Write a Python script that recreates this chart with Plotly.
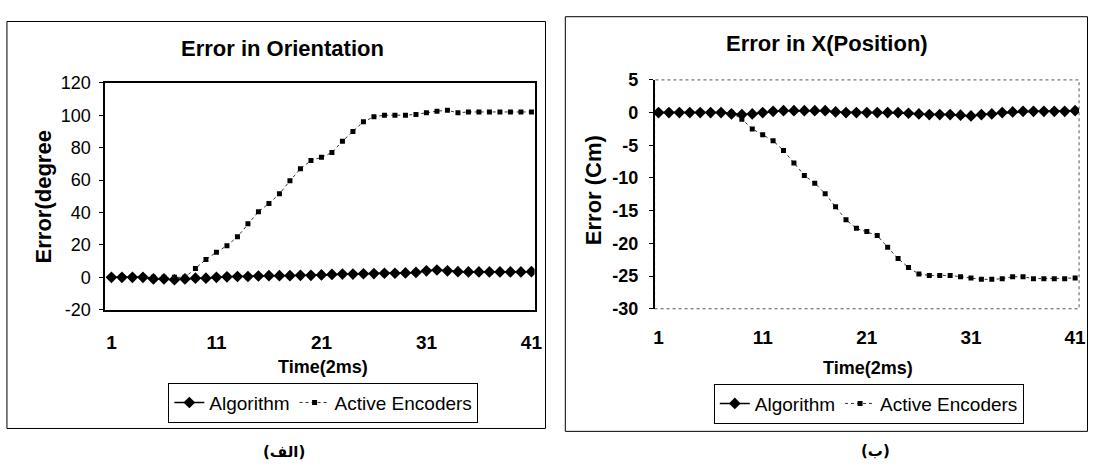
import plotly.graph_objects as go

W, H = 1096, 472

time = [1, 2, 3, 4, 5, 6, 7, 8, 9, 10, 11, 12, 13, 14, 15, 16, 17, 18, 19, 20,
        21, 22, 23, 24, 25, 26, 27, 28, 29, 30, 31, 32, 33, 34, 35, 36, 37, 38, 39, 40, 41]
x_tick_vals = [1, 11, 21, 31, 41]

orient_ticks = [-20, 0, 20, 40, 60, 80, 100, 120]
orient_tick_text = ["-20", "0", "20", "40", "60", "80", "100", "120"]
posx_ticks = [-30, -25, -20, -15, -10, -5, 0, 5]
posx_tick_text = ["-30", "-25", "-20", "-15", "-10", "-5", "0", "5"]

orient_algorithm = [0, 0, 0, 0, -1, -1, -1.5, -1, -0.5, -0.5,
                    0, 0.3, 0.5, 0.5, 0.8, 1, 1, 1, 1.2, 1.2,
                    1.5, 1.8, 2, 2, 2.2, 2.3, 2.5, 2.5, 2.7, 3,
                    4, 4.5, 4, 3.5, 3.3, 3.3, 3.3, 3.3, 3.3, 3.3, 3.5]
orient_encoders = [0, 0, 0, 0, 0, 0, 0, 0, 5.5, 11,
                   15.5, 19.5, 25, 33, 40.5, 45.5, 51.5, 59.5, 67, 72,
                   74, 77, 84, 90, 96, 99, 100, 100, 100, 100.5,
                   101.5, 102.5, 103, 101.5, 102, 102, 102, 102, 102, 102, 102]

posx_algorithm = [0, 0, 0, 0, 0, 0, 0, -0.2, -0.3, -0.2,
                  0, 0.2, 0.3, 0.3, 0.3, 0.3, 0.3, 0.1, 0, 0,
                  0, 0, 0, 0, -0.1, -0.2, -0.3, -0.3, -0.3, -0.4,
                  -0.5, -0.3, -0.2, 0, 0.1, 0.2, 0.2, 0.2, 0.2, 0.2, 0.3]
posx_encoders = [0, 0, 0, 0, 0, 0, 0, 0, -1.0, -2.5,
                 -3.4, -4.3, -5.8, -7.7, -9.6, -10.8, -12.4, -14.4, -16.4, -17.7,
                 -18.2, -18.8, -20.6, -22.3, -23.7, -24.7, -24.9, -24.9, -24.9, -25.1,
                 -25.3, -25.5, -25.5, -25.4, -25.1, -25.1, -25.4, -25.4, -25.4, -25.4, -25.3]

FONT = "Liberation Sans, Arial, sans-serif"

def px(v):
    return v / W

def py(v):
    return 1 - v / H

fig = go.Figure()

alg_style = dict(mode="lines+markers", line=dict(color="black", width=1.5),
                 marker=dict(symbol="diamond", size=9, color="black"))
enc_style = dict(mode="lines+markers", line=dict(color="#333333", width=1, dash="dot"),
                 marker=dict(symbol="square", size=5, color="black"))

fig.add_trace(go.Scatter(x=time, y=orient_encoders, name="Active Encoders",
                         xaxis="x", yaxis="y", legend="legend", legendrank=2, **enc_style))
fig.add_trace(go.Scatter(x=time, y=orient_algorithm, name="Algorithm",
                         xaxis="x", yaxis="y", legend="legend", legendrank=1, **alg_style))
fig.add_trace(go.Scatter(x=time, y=posx_encoders, name="Active Encoders",
                         xaxis="x2", yaxis="y2", legend="legend2", legendrank=2, **enc_style))
fig.add_trace(go.Scatter(x=time, y=posx_algorithm, name="Algorithm",
                         xaxis="x2", yaxis="y2", legend="legend2", legendrank=1, **alg_style))

common_x = dict(tickvals=x_tick_vals, ticks="", showgrid=False, zeroline=False,
                ticklabelstandoff=15)

fig.update_layout(
    width=W, height=H,
    margin=dict(l=0, r=0, t=0, b=0),
    paper_bgcolor="white", plot_bgcolor="white",
    font=dict(family=FONT, color="black"),
    xaxis=dict(domain=[px(105), px(538)], range=[0.4, 41.3], anchor="y",
               showline=True, mirror=True, linecolor="black", linewidth=1.5,
               tickfont=dict(size=19, weight="bold"), **common_x),
    yaxis=dict(domain=[py(313), py(76)], range=[-20, 120], anchor="x",
               tickvals=orient_ticks, ticktext=orient_tick_text,
               showline=True, mirror=True, linecolor="black", linewidth=1.5,
               ticks="outside", ticklen=4, tickcolor="black", ticklabelstandoff=5,
               showgrid=False, zeroline=False, tickfont=dict(size=18)),
    xaxis2=dict(domain=[px(659), px(1087)], range=[0.62, 41.38], anchor="y2",
                showline=False, tickfont=dict(size=19, weight="bold"), **common_x),
    yaxis2=dict(domain=[py(312), py(73)], range=[-30, 5], anchor="x2",
                tickvals=posx_ticks, ticktext=posx_tick_text,
                showline=True, mirror=False, linecolor="black", linewidth=1.5,
                ticks="outside", ticklen=4, tickcolor="black", ticklabelstandoff=7,
                showgrid=False, zeroline=False, tickfont=dict(size=18, weight="bold")),
    legend=dict(orientation="h", x=px(325), xanchor="center", y=py(410), yanchor="middle",
                bordercolor="black", borderwidth=1, bgcolor="white",
                font=dict(size=19)),
    legend2=dict(orientation="h", x=px(875), xanchor="center", y=py(411), yanchor="middle",
                 bordercolor="black", borderwidth=1, bgcolor="white",
                 font=dict(size=19)),
    showlegend=True,
)

fig.add_shape(type="rect", xref="paper", yref="paper",
              x0=px(6), x1=px(549), y0=py(437), y1=py(12),
              line=dict(color="black", width=1), layer="below")
fig.add_shape(type="rect", xref="paper", yref="paper",
              x0=px(569), x1=px(1095.5), y0=py(440), y1=py(7),
              line=dict(color="black", width=1), layer="below")
fig.add_shape(type="rect", xref="x2 domain", yref="y2 domain",
              x0=0, x1=1, y0=0, y1=1,
              line=dict(color="#555555", width=1, dash="dot"), layer="below")

def ann(text, x, y, size, angle=0, family=FONT):
    fig.add_annotation(text=text, x=px(x), y=py(y), xref="paper", yref="paper",
                       showarrow=False, textangle=angle, xanchor="center", yanchor="middle",
                       font=dict(size=size, family=family, color="black"))

ann("<b>Error in Orientation</b>", 284, 40, 22)
ann("<b>Error in X(Position)</b>", 833, 35, 22)
ann("<b>Error(degree</b>", 43, 195, 22, angle=-90)
ann("<b>Error (Cm)</b>", 597, 188, 22, angle=-90)
ann("<b>Time(2ms)</b>", 325, 373, 18)
ann("<b>Time(2ms)</b>", 874, 374, 18)
ann("<b>(الف)</b>", 285, 462, 15, family="DejaVu Sans")
ann("<b>(ب)</b>", 882, 461, 15, family="DejaVu Sans")

fig.write_html("out.html", config={"displayModeBar": False},
               post_script="document.body.style.margin='0';document.body.style.padding='0';")
